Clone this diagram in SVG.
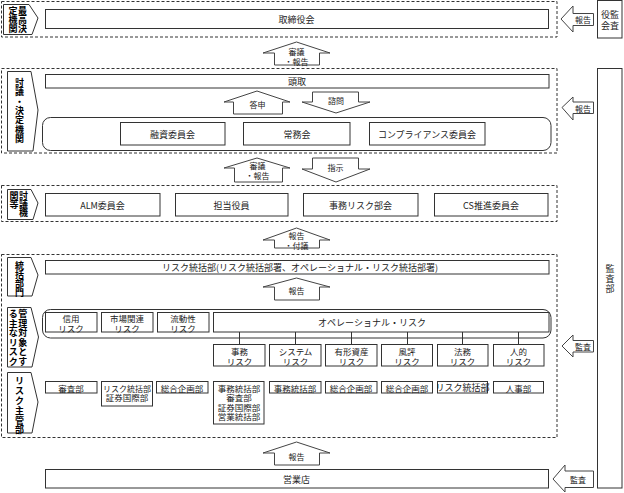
<svg xmlns="http://www.w3.org/2000/svg" width="624" height="493" viewBox="0 0 624 493">
<style>
.dash{fill:none;stroke:#333;stroke-width:1;stroke-dasharray:3 2}
.box{fill:#fff;stroke:#333;stroke-width:1}
.arr{fill:#fff;stroke:#444;stroke-width:1}
.conn{stroke:#333;stroke-width:1;fill:none}
.t{font-family:"Noto Sans CJK JP","Noto Sans CJK SC",sans-serif;font-size:9px;fill:#222;text-anchor:middle;dominant-baseline:central}
.s{font-size:8px}
.d{font-size:8.5px}
.b{font-weight:bold;fill:#000;font-size:9px}
</style>
<rect width="624" height="493" fill="#fff"/>

<!-- dashed sections -->
<g id="sections">
<rect class="dash" x="1.5" y="1.5" width="555.5" height="35.5"/>
<rect class="dash" x="1.5" y="68.5" width="555.5" height="84.5"/>
<rect class="dash" x="1.5" y="185.5" width="555.5" height="36"/>
<rect class="dash" x="1.5" y="254.5" width="555.5" height="183"/>
</g>

<!-- section labels -->
<g id="label1">
<polygon class="box" points="3.5,4.5 29,4.5 38,18 32,34.5 3.5,34.5"/>
<text class="t b"><tspan x="13" y="10">定</tspan><tspan x="22.5" y="10">最</tspan><tspan x="13" y="19">機</tspan><tspan x="22.5" y="19">高</tspan><tspan x="13" y="28">関</tspan><tspan x="22.5" y="28">決</tspan></text>
</g>
<g id="label2">
<polygon class="box" points="7.5,71.5 31,71.5 38,110 33,151 7.5,151"/>
<text class="t b"><tspan x="19.5" y="82">討</tspan><tspan x="19.5" y="91.3">議</tspan><tspan x="19.5" y="100.6">・</tspan><tspan x="19.5" y="110">決</tspan><tspan x="19.5" y="119.3">定</tspan><tspan x="19.5" y="128.6">機</tspan><tspan x="19.5" y="138">関</tspan></text>
</g>
<g id="label3">
<polygon class="box" points="7.5,189.5 31,189.5 38,203 33,219.5 7.5,219.5"/>
<text class="t b"><tspan x="14" y="195">関</tspan><tspan x="23.5" y="195">討</tspan><tspan x="14" y="203.5">等</tspan><tspan x="23.5" y="203.5">議</tspan><tspan x="23.5" y="212">機</tspan></text>
</g>
<g id="label4">
<polygon class="box" points="7.5,257.5 31,257.5 38,275 32,296 7.5,296"/>
<text class="t b"><tspan x="19.5" y="265">統</tspan><tspan x="19.5" y="274">括</tspan><tspan x="19.5" y="283">部</tspan><tspan x="19.5" y="292">門</tspan></text>
</g>
<g id="label5">
<polygon class="box" points="7.5,307.5 31,307.5 38.5,337 32,367 7.5,367"/>
<text class="t b"><tspan x="13.2" y="313">る</tspan><tspan x="22.8" y="313">管</tspan><tspan x="13.2" y="322.6">主</tspan><tspan x="22.8" y="322.6">理</tspan><tspan x="13.2" y="332.2">な</tspan><tspan x="22.8" y="332.2">対</tspan><tspan x="13.2" y="341.8">リ</tspan><tspan x="22.8" y="341.8">象</tspan><tspan x="13.2" y="351.4">ス</tspan><tspan x="22.8" y="351.4">と</tspan><tspan x="13.2" y="361">ク</tspan><tspan x="22.8" y="361">す</tspan></text>
</g>
<g id="label6">
<polygon class="box" points="7.5,372.5 31,372.5 38,402 32,433 7.5,433"/>
<text class="t b"><tspan x="19.5" y="380">リ</tspan><tspan x="19.5" y="390">ス</tspan><tspan x="19.5" y="400">ク</tspan><tspan x="19.5" y="410">主</tspan><tspan x="19.5" y="419.5">管</tspan><tspan x="19.5" y="429">部</tspan></text>
</g>

<!-- nodes -->
<g id="n-torishimariyakukai">
<rect class="box" x="45.5" y="9.5" width="503" height="19"/>
<text class="t" x="296.5" y="19">取締役会</text>
</g>
<g id="n-kansayakukai">
<rect class="box" x="597.5" y="0.5" width="24.5" height="37.5"/>
<text class="t" x="610" y="14.5">役監<tspan x="610" dy="10.5">会査</tspan></text>
</g>
<g id="n-kansabu">
<rect class="box" x="597.5" y="68.5" width="24.5" height="419.5"/>
<text class="t"><tspan x="610" y="267.5">監</tspan><tspan x="610" y="277.5">査</tspan><tspan x="610" y="287.5">部</tspan></text>
</g>
<g id="n-todori">
<rect class="box" x="45.5" y="74.5" width="503.5" height="13.5"/>
<text class="t" x="297" y="81.5">頭取</text>
</g>
<g id="n-committees">
<rect class="box" x="42.5" y="117.5" width="508.5" height="33" rx="8"/>
</g>
<g id="n-yushi">
<rect class="box" x="120.5" y="122.5" width="104.5" height="22.5"/>
<text class="t" x="172.5" y="134">融資委員会</text>
</g>
<g id="n-jomu">
<rect class="box" x="243.5" y="122.5" width="106.5" height="22.5"/>
<text class="t" x="297" y="134">常務会</text>
</g>
<g id="n-compliance">
<rect class="box" x="369.5" y="122.5" width="115.5" height="22.5"/>
<text class="t" x="427" y="134">コンプライアンス委員会</text>
</g>
<g id="n-alm">
<rect class="box" x="45.5" y="193.5" width="114.5" height="22.5"/>
<text class="t" x="102.5" y="205">ALM委員会</text>
</g>
<g id="n-tanto">
<rect class="box" x="175.5" y="193.5" width="112.5" height="22.5"/>
<text class="t" x="231.5" y="205">担当役員</text>
</g>
<g id="n-jimurisk">
<rect class="box" x="303.5" y="193.5" width="114.5" height="22.5"/>
<text class="t" x="360.5" y="205">事務リスク部会</text>
</g>
<g id="n-cs">
<rect class="box" x="434.5" y="193.5" width="113.5" height="22.5"/>
<text class="t" x="491" y="205">CS推進委員会</text>
</g>
<g id="n-risktokatsu">
<rect class="box" x="45.5" y="260.5" width="503.5" height="13.5"/>
<text class="t" x="300" y="267.5">リスク統括部(リスク統括部署、オペレーショナル・リスク統括部署)</text>
</g>
<g id="n-riskgroup">
<rect class="box" x="42.5" y="309.5" width="508.5" height="28.5" rx="8"/>
</g>
<g id="n-shinyo">
<rect class="box" x="45.5" y="312.5" width="51.5" height="19.5"/>
<text class="t d" x="71" y="318">信用<tspan x="71" dy="9.5">リスク</tspan></text>
</g>
<g id="n-shijo">
<rect class="box" x="101.5" y="312.5" width="51.5" height="19.5"/>
<text class="t d" x="127" y="318">市場関連<tspan x="127" dy="9.5">リスク</tspan></text>
</g>
<g id="n-ryudosei">
<rect class="box" x="157.5" y="312.5" width="51.5" height="19.5"/>
<text class="t d" x="183" y="318">流動性<tspan x="183" dy="9.5">リスク</tspan></text>
</g>
<g id="n-operational">
<rect class="box" x="213.5" y="312.5" width="335.5" height="19.5"/>
<text class="t" x="372" y="322">オペレーショナル・リスク</text>
</g>

<!-- connectors -->
<g id="connectors">
<line class="conn" x1="239.5" y1="332" x2="239.5" y2="344.5"/>
<line class="conn" x1="295.5" y1="332" x2="295.5" y2="344.5"/>
<line class="conn" x1="351.5" y1="332" x2="351.5" y2="344.5"/>
<line class="conn" x1="407.5" y1="332" x2="407.5" y2="344.5"/>
<line class="conn" x1="462.5" y1="332" x2="462.5" y2="344.5"/>
<line class="conn" x1="518.5" y1="332" x2="518.5" y2="344.5"/>
</g>

<g id="n-jimu">
<rect class="box" x="213.5" y="344.5" width="51.5" height="21.5"/>
<text class="t d" x="239.5" y="351">事務<tspan x="239.5" dy="9.5">リスク</tspan></text>
</g>
<g id="n-system">
<rect class="box" x="269.5" y="344.5" width="51.5" height="21.5"/>
<text class="t d" x="295.5" y="351">システム<tspan x="295.5" dy="9.5">リスク</tspan></text>
</g>
<g id="n-yukei">
<rect class="box" x="325.5" y="344.5" width="51.5" height="21.5"/>
<text class="t d" x="351.5" y="351">有形資産<tspan x="351.5" dy="9.5">リスク</tspan></text>
</g>
<g id="n-fuhyo">
<rect class="box" x="381.5" y="344.5" width="51" height="21.5"/>
<text class="t d" x="407" y="351">風評<tspan x="407" dy="9.5">リスク</tspan></text>
</g>
<g id="n-homu">
<rect class="box" x="437.5" y="344.5" width="50.5" height="21.5"/>
<text class="t d" x="462.5" y="351">法務<tspan x="462.5" dy="9.5">リスク</tspan></text>
</g>
<g id="n-jinteki">
<rect class="box" x="493.5" y="344.5" width="50.5" height="21.5"/>
<text class="t d" x="518.5" y="351">人的<tspan x="518.5" dy="9.5">リスク</tspan></text>
</g>

<g id="d-shinsa">
<rect class="box" x="45.5" y="381.5" width="51.5" height="11.5"/>
<text class="t d" x="71" y="387.5">審査部</text>
</g>
<g id="d-risk-shoken">
<rect class="box" x="101.5" y="381.5" width="51" height="24.5"/>
<text class="t d" x="127" y="387.5"><tspan font-size="8">リスク統括部</tspan><tspan x="127" dy="9.5">証券国際部</tspan></text>
</g>
<g id="d-sogo1">
<rect class="box" x="156.5" y="381.5" width="51.5" height="11.5"/>
<text class="t d" x="182" y="387.5">総合企画部</text>
</g>
<g id="d-jimu-multi">
<rect class="box" x="213.5" y="381.5" width="50.5" height="42.5"/>
<text class="t d" x="239" y="387.5">事務統括部<tspan x="239" dy="9.5">審査部</tspan><tspan x="239" dy="9.5">証券国際部</tspan><tspan x="239" dy="9.5">営業統括部</tspan></text>
</g>
<g id="d-jimu">
<rect class="box" x="269.5" y="381.5" width="51.5" height="11.5"/>
<text class="t d" x="295" y="387.5">事務統括部</text>
</g>
<g id="d-sogo2">
<rect class="box" x="325.5" y="381.5" width="51.5" height="11.5"/>
<text class="t d" x="351" y="387.5">総合企画部</text>
</g>
<g id="d-sogo3">
<rect class="box" x="381.5" y="381.5" width="51" height="11.5"/>
<text class="t d" x="407" y="387.5">総合企画部</text>
</g>
<g id="d-risk">
<rect class="box" x="437.5" y="381.5" width="50" height="11.5"/>
<text class="t" x="462.5" y="387.5" font-size="8">リスク統括部</text>
</g>
<g id="d-jinji">
<rect class="box" x="493.5" y="381.5" width="50" height="11.5"/>
<text class="t d" x="518.5" y="387.5">人事部</text>
</g>
<g id="n-eigyoten">
<rect class="box" x="45.5" y="469.5" width="503" height="18.5"/>
<text class="t" x="296.5" y="479">営業店</text>
</g>

<!-- block arrows -->
<g id="arrows">
<polygon class="arr" points="274.5,65 274.5,53 263,53 296.5,42 330,53 319.5,53 319.5,65"/>
<text class="t s" x="296.5" y="51">審議<tspan x="296.5" dy="9.5">・報告</tspan></text>

<polygon class="arr" points="233.5,114 233.5,102 224,102 257,91 290,102 282.5,102 282.5,114"/>
<text class="t s" x="257.5" y="104">答申</text>

<polygon class="arr" points="312.5,92 358.5,92 358.5,102 370,102 336,113 302,102 312.5,102"/>
<text class="t s" x="336" y="100">諮問</text>

<polygon class="arr" points="234.5,182 234.5,168 224,168 257,158 290,168 282.5,168 282.5,182"/>
<text class="t s" x="257.5" y="165">審議<tspan x="257.5" dy="10">・報告</tspan></text>

<polygon class="arr" points="312.5,158 358.5,158 358.5,169 370,169 336,182 302,169 312.5,169"/>
<text class="t s" x="335.5" y="167">指示</text>

<polygon class="arr" points="274.5,248 274.5,240 263,240 296.5,228 330,240 319.5,240 319.5,248"/>
<text class="t s" x="296.5" y="235.5">報告<tspan x="296.5" dy="9.5">・付議</tspan></text>

<polygon class="arr" points="274.5,300 274.5,287 263,287 296.5,278 330,287 319.5,287 319.5,300"/>
<text class="t s" x="296.5" y="290.5">報告</text>

<polygon class="arr" points="274.5,465 274.5,453 263,453 296.5,442 330,453 319.5,453 319.5,465"/>
<text class="t s" x="296.5" y="456">報告</text>

<polygon class="arr" points="593.5,13.5 573,13.5 573,6 561,19 573,32 573,25.5 593.5,25.5"/>
<text class="t s" x="583" y="19.5">報告</text>

<polygon class="arr" points="593.5,102 573,102 573,97 562,107.5 573,120 573,113.5 593.5,113.5"/>
<text class="t s" x="583" y="108">報告</text>

<polygon class="arr" points="593.5,340.5 573,340.5 573,335 562,346 573,357 573,352 593.5,352"/>
<text class="t s" x="583" y="346.5">監査</text>

<polygon class="arr" points="593.5,471 565,471 565,465 553,479 565,492 565,487.5 593.5,487.5"/>
<text class="t s" x="578" y="479.5">監査</text>
</g>
</svg>
